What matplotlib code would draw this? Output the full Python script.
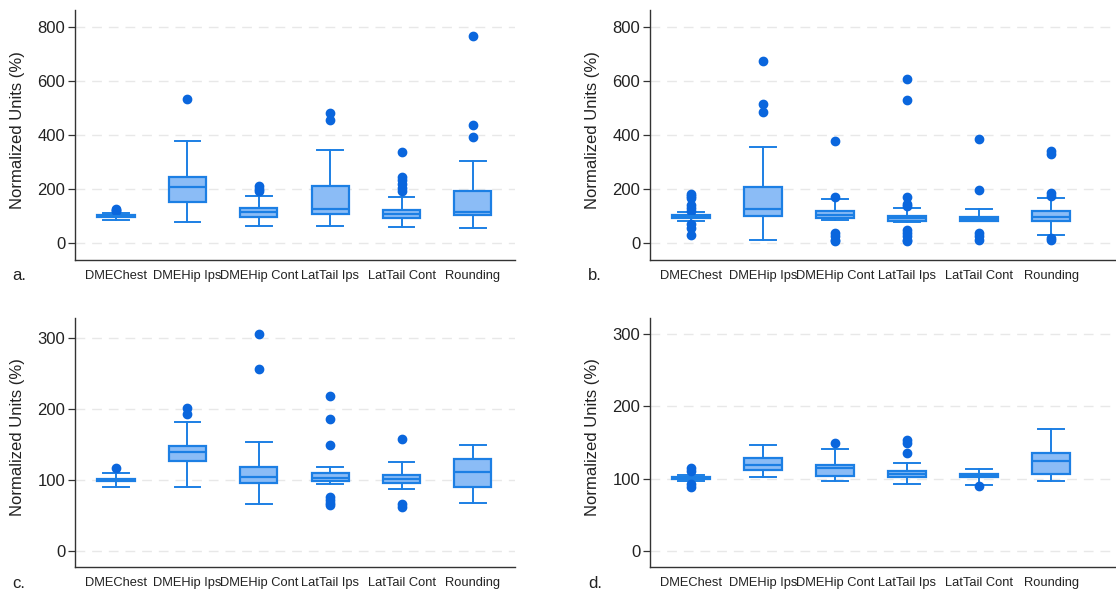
import matplotlib
matplotlib.use("Agg")
import matplotlib.pyplot as plt

plt.rcParams['font.family'] = ['Liberation Sans', 'DejaVu Sans']

categories = ["DMEChest", "DMEHip Ips", "DMEHip Cont", "LatTail Ips", "LatTail Cont", "Rounding"]

# Panel a
a_q1 = [96, 150, 96, 108, 91, 102]
a_med = [100, 206, 113, 127, 108, 115]
a_q3 = [103, 245, 128, 212, 123, 191]
a_lo = [87, 79, 64, 64, 58, 55]
a_hi = [111, 376, 173, 346, 170, 305]
a_fl = [[117, 122, 127], [534], [192, 200, 210], [454, 481],
        [192, 205, 220, 235, 245, 337], [392, 438, 768]]

# Panel b
b_q1 = [92, 99, 91, 83, 80, 83]
b_med = [99, 126, 105, 91, 90, 96]
b_q3 = [105, 208, 118, 101, 97, 117]
b_lo = [83, 11, 86, 76, 80, 31]
b_hi = [113, 354, 164, 131, 126, 165]
b_fl = [[30, 55, 72, 117, 129, 142, 165, 173, 182],
        [487, 513, 674],
        [6, 12, 25, 37, 170, 376],
        [6, 12, 25, 37, 49, 136, 144, 170, 530, 607],
        [10, 25, 37, 197, 386],
        [10, 18, 175, 187, 330, 339]]

# Panel c
c_q1 = [98.5, 127, 96, 99.5, 96, 91]
c_med = [100.5, 139, 105, 103, 102, 111]
c_q3 = [102, 148, 119, 110, 107, 130]
c_lo = [91, 91, 67, 95, 87, 68]
c_hi = [110, 182, 154, 118, 126, 150]
c_fl = [[117], [193, 202], [256, 305], [65, 68, 72, 76, 150, 186, 219],
        [62, 67, 158], []]

# Panel d
d_q1 = [100, 112, 104, 102, 102, 106]
d_med = [101, 119, 115, 107, 104, 125]
d_q3 = [102, 128, 119, 110, 106, 136]
d_lo = [97, 103, 97, 93, 91, 97]
d_hi = [105, 147, 141, 122, 114, 168]
d_fl = [[88, 92, 110, 115], [], [149], [136, 149, 154], [90], []]

panels = [
    ("a.", a_q1, a_med, a_q3, a_lo, a_hi, a_fl, (-63, 863), [0, 200, 400, 600, 800]),
    ("b.", b_q1, b_med, b_q3, b_lo, b_hi, b_fl, (-63, 863), [0, 200, 400, 600, 800]),
    ("c.", c_q1, c_med, c_q3, c_lo, c_hi, c_fl, (-22, 328), [0, 100, 200, 300]),
    ("d.", d_q1, d_med, d_q3, d_lo, d_hi, d_fl, (-22, 322), [0, 100, 200, 300]),
]

W, H = 1116, 590
fig = plt.figure(figsize=(W / 100, H / 100), dpi=100)

rects = [
    (75, 515, 10, 260, -0.574, 5.59),
    (650, 1116, 10, 260, -0.57, 5.9),
    (75, 515, 318, 567, -0.574, 5.59),
    (650, 1116, 318, 567, -0.57, 5.9),
]
letter_pos = [(12, 276), (588, 276), (12, 583), (588, 583)]
ylabel_x = [18, 593, 18, 593]

edge = "#1C7FE4"
fill = "#8BBCF6"
dot = "#0A66DD"

for i, (lab, q1, med, q3, lo, hi, fl, ylim, yt) in enumerate(panels):
    x0, x1, yt_px, yb_px, xl0, xl1 = rects[i]
    ax = fig.add_axes([x0 / W, 1 - yb_px / H, (x1 - x0) / W, (yb_px - yt_px) / H])
    stats = []
    for k in range(len(categories)):
        stats.append(dict(med=med[k], q1=q1[k], q3=q3[k], whislo=lo[k], whishi=hi[k],
                          fliers=fl[k], label=categories[k]))
    ax.bxp(stats, positions=range(len(categories)), widths=0.52, patch_artist=True,
           showfliers=True,
           boxprops=dict(facecolor=fill, edgecolor=edge, linewidth=1.6),
           medianprops=dict(color=edge, linewidth=1.6),
           whiskerprops=dict(color=edge, linewidth=1.4),
           capprops=dict(color=edge, linewidth=1.4),
           capwidths=0.36,
           flierprops=dict(marker='o', markerfacecolor=dot, markeredgecolor=dot,
                           markersize=6, linestyle='none'))
    ax.set_xlim(xl0, xl1)
    ax.set_ylim(*ylim)
    ax.set_yticks(yt)
    ax.set_xticks(range(len(categories)))
    ax.set_xticklabels(categories, fontsize=9.3, color="#222222")
    ax.tick_params(axis='y', labelsize=12, length=5, width=0.9, color="#333333",
                   labelcolor="#222222", pad=2)
    ax.tick_params(axis='x', length=0, pad=7)
    for s in ['top', 'right']:
        ax.spines[s].set_visible(False)
    for s in ['left', 'bottom']:
        ax.spines[s].set_color("#333333")
        ax.spines[s].set_linewidth(1.0)
    ax.yaxis.grid(True, linestyle=(0, (7, 5)), color="#e8e8e8", linewidth=1.0)
    ax.set_axisbelow(True)
    fig.text(ylabel_x[i] / W, 1 - ((yt_px + yb_px) / 2 - 5) / H, "Normalized Units (%)",
             rotation=90, fontsize=12, color="#222222", ha='center', va='center')
    fig.text(letter_pos[i][0] / W, 1 - letter_pos[i][1] / H, lab, fontsize=12,
             color="#222222", ha='left', va='center')

fig.savefig("out.png", dpi=100)
